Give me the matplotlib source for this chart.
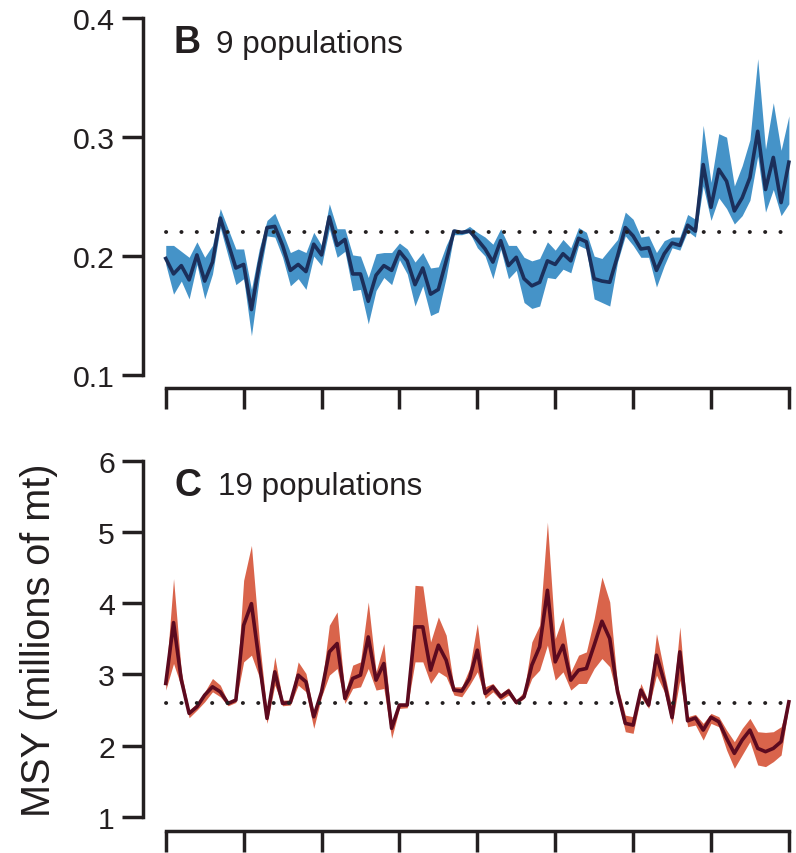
import numpy as np
import matplotlib
matplotlib.use("Agg")
from matplotlib import pyplot as plt

plt.rcParams['font.family'] = ['Liberation Sans', 'DejaVu Sans']

# years as index 0..80 (ticks every 10, no labels)
years = np.arange(81)

# panel B: 9 populations
b_mid = [0.198, 0.185, 0.192, 0.180, 0.201, 0.179, 0.195, 0.232, 0.211, 0.190,
         0.193, 0.155, 0.193, 0.224, 0.225, 0.209, 0.188, 0.193, 0.187, 0.210,
         0.201, 0.233, 0.209, 0.214, 0.185, 0.185, 0.162, 0.184, 0.192, 0.188,
         0.204, 0.196, 0.176, 0.190, 0.168, 0.172, 0.196, 0.221, 0.220, 0.221,
         0.214, 0.206, 0.195, 0.213, 0.192, 0.199, 0.181, 0.175, 0.178, 0.196,
         0.193, 0.202, 0.196, 0.215, 0.212, 0.181, 0.179, 0.178, 0.200, 0.224,
         0.217, 0.206, 0.207, 0.188, 0.202, 0.211, 0.209, 0.226, 0.221, 0.277,
         0.241, 0.273, 0.263, 0.238, 0.249, 0.266, 0.305, 0.256, 0.283, 0.245,
         0.279]
b_hi = [0.209, 0.209, 0.204, 0.199, 0.212, 0.199, 0.209, 0.240, 0.223, 0.206,
        0.206, 0.172, 0.206, 0.230, 0.236, 0.220, 0.203, 0.206, 0.203, 0.220,
        0.209, 0.244, 0.223, 0.223, 0.201, 0.200, 0.182, 0.202, 0.203, 0.203,
        0.211, 0.206, 0.195, 0.203, 0.190, 0.191, 0.209, 0.223, 0.221, 0.225,
        0.220, 0.216, 0.210, 0.223, 0.209, 0.209, 0.199, 0.196, 0.198, 0.212,
        0.205, 0.214, 0.207, 0.224, 0.220, 0.200, 0.198, 0.206, 0.214, 0.237,
        0.231, 0.216, 0.217, 0.203, 0.213, 0.216, 0.216, 0.235, 0.231, 0.310,
        0.262, 0.303, 0.300, 0.259, 0.276, 0.298, 0.366, 0.290, 0.329, 0.289,
        0.318]
b_lo = [0.193, 0.168, 0.179, 0.164, 0.193, 0.164, 0.185, 0.224, 0.200, 0.176,
        0.181, 0.133, 0.181, 0.217, 0.216, 0.199, 0.175, 0.181, 0.172, 0.200,
        0.192, 0.223, 0.199, 0.204, 0.171, 0.172, 0.143, 0.171, 0.182, 0.176,
        0.197, 0.185, 0.158, 0.175, 0.150, 0.153, 0.182, 0.218, 0.218, 0.220,
        0.207, 0.200, 0.181, 0.206, 0.181, 0.188, 0.161, 0.156, 0.158, 0.182,
        0.181, 0.189, 0.186, 0.209, 0.206, 0.164, 0.161, 0.158, 0.195, 0.217,
        0.209, 0.199, 0.199, 0.174, 0.192, 0.207, 0.205, 0.221, 0.216, 0.259,
        0.230, 0.249, 0.240, 0.227, 0.234, 0.247, 0.284, 0.237, 0.256, 0.234,
        0.244]
b_ref = 0.22

# panel C: 19 populations
c_mid = [2.874, 3.728, 2.921, 2.454, 2.547, 2.711, 2.827, 2.757, 2.594, 2.641,
         3.691, 3.994, 3.177, 2.384, 3.037, 2.594, 2.608, 2.991, 2.897, 2.407,
         2.757, 3.317, 3.434, 2.664, 2.944, 2.991, 3.527, 2.921, 3.154, 2.244,
         2.571, 2.571, 3.668, 3.668, 3.061, 3.411, 3.201, 2.781, 2.767, 2.944,
         3.341, 2.734, 2.827, 2.687, 2.767, 2.608, 2.687, 3.131, 3.388, 4.181,
         3.177, 3.411, 2.921, 3.061, 3.084, 3.411, 3.747, 3.504, 2.757, 2.314,
         2.290, 2.781, 2.571, 3.271, 2.897, 2.395, 3.317, 2.350, 2.390, 2.220,
         2.400, 2.337, 2.104, 1.893, 2.080, 2.220, 1.963, 1.917, 1.963, 2.057,
         2.617]
c_hi = [2.944, 4.345, 3.037, 2.500, 2.594, 2.757, 2.944, 2.850, 2.617, 2.673,
        4.321, 4.811, 3.504, 2.477, 3.248, 2.641, 2.641, 3.177, 3.014, 2.477,
        2.827, 3.691, 3.878, 2.734, 3.131, 3.177, 4.018, 3.037, 3.434, 2.337,
        2.594, 2.594, 4.251, 4.242, 3.457, 3.808, 3.551, 2.827, 2.827, 3.084,
        3.714, 2.827, 2.874, 2.734, 2.813, 2.641, 2.757, 3.457, 3.691, 5.138,
        3.504, 3.808, 3.037, 3.271, 3.317, 3.784, 4.368, 4.018, 2.850, 2.430,
        2.407, 2.874, 2.617, 3.574, 3.037, 2.524, 3.668, 2.407, 2.440, 2.314,
        2.454, 2.407, 2.220, 2.057, 2.244, 2.384, 2.197, 2.187, 2.197, 2.267,
        2.640]
c_lo = [2.781, 3.154, 2.827, 2.393, 2.500, 2.617, 2.757, 2.687, 2.561, 2.608,
        3.177, 3.271, 2.967, 2.314, 2.850, 2.561, 2.571, 2.850, 2.757, 2.244,
        2.687, 2.991, 3.084, 2.594, 2.804, 2.827, 3.084, 2.781, 2.804, 2.104,
        2.524, 2.533, 3.177, 3.177, 2.874, 3.037, 2.967, 2.711, 2.687, 2.850,
        3.037, 2.664, 2.757, 2.641, 2.711, 2.580, 2.664, 2.944, 3.061, 3.411,
        2.921, 3.037, 2.781, 2.874, 2.874, 3.084, 3.224, 3.108, 2.664, 2.197,
        2.174, 2.687, 2.524, 2.991, 2.757, 2.300, 2.921, 2.267, 2.290, 2.080,
        2.314, 2.267, 1.940, 1.683, 1.870, 2.057, 1.730, 1.707, 1.777, 1.870,
        2.570]
c_ref = 2.6

W, H = 796, 854
INK = '#231f20'
fig = plt.figure(figsize=(W / 100, H / 100), dpi=100)


def px_axes(left, top, right, bottom):
    return fig.add_axes([left / W, 1 - bottom / H, (right - left) / W, (bottom - top) / H])


def style(ax, ylo, yhi, yticks, ylabels):
    for s in ['top', 'right']:
        ax.spines[s].set_visible(False)
    for s in ['left', 'bottom']:
        ax.spines[s].set_linewidth(2.5)
        ax.spines[s].set_color(INK)
        ax.spines[s].set_capstyle('projecting')
    ax.spines['left'].set_bounds(ylo, yhi)
    ax.spines['bottom'].set_bounds(0, 80)
    ax.set_yticks(yticks)
    ax.set_yticklabels(ylabels)
    ax.set_xticks(np.arange(0, 81, 10))
    ax.set_xticklabels([])
    ax.tick_params(axis='y', length=15, width=2.5, color=INK, labelsize=21.8,
                   pad=5, labelcolor=INK)
    ax.tick_params(axis='x', length=15, width=2.5, color=INK)
    ax.set_xlim(-2.96, 80.4)


def ref_line(ax, y):
    ax.plot([years[0], years[-1]], [y, y], color=INK, lw=2.8,
            linestyle=(0, (0.05, 3.9)), dash_capstyle='round')


# panel B
ax1 = px_axes(142.7, 19.3, 792, 389)
ax1.fill_between(years, b_lo, b_hi, color='#4593c8', lw=0)
ax1.plot(years, b_mid, color='#1b2f5b', lw=2.6)
ref_line(ax1, b_ref)
ax1.set_ylim(0.1 - 13 / 1190, 0.4)
style(ax1, 0.1, 0.4, [0.1, 0.2, 0.3, 0.4], ['0.1', '0.2', '0.3', '0.4'])

# panel C
ax2 = px_axes(142.7, 461.7, 792, 831.7)
ax2.fill_between(years, c_lo, c_hi, color='#d9644b', lw=0)
ax2.plot(years, c_mid, color='#5c0a1f', lw=2.6)
ref_line(ax2, c_ref)
ax2.set_ylim(1 - 13.7 / 71.3, 6)
style(ax2, 1, 6, [1, 2, 3, 4, 5, 6], ['1', '2', '3', '4', '5', '6'])
ax2.set_ylabel('MSY (millions of mt)', fontsize=28.5, color=INK)
ax2.yaxis.set_label_coords(-0.1297, 0.518)

# panel labels
bold = ['Liberation Sans Narrow', 'Liberation Sans', 'DejaVu Sans']
fig.text(174 / W, 1 - 53 / H, 'B', fontsize=27, fontweight='bold', family=bold,
         color=INK, va='baseline', ha='left')
fig.text(216 / W, 1 - 53 / H, '9 populations', fontsize=22.6, color=INK,
         va='baseline', ha='left')
fig.text(174 / W, 1 - 496 / H, 'C', fontsize=27, fontweight='bold', family=bold,
         color=INK, va='baseline', ha='left')
fig.text(218 / W, 1 - 495 / H, '19 populations', fontsize=22.6, color=INK,
         va='baseline', ha='left')

fig.savefig('out.png', dpi=100)
